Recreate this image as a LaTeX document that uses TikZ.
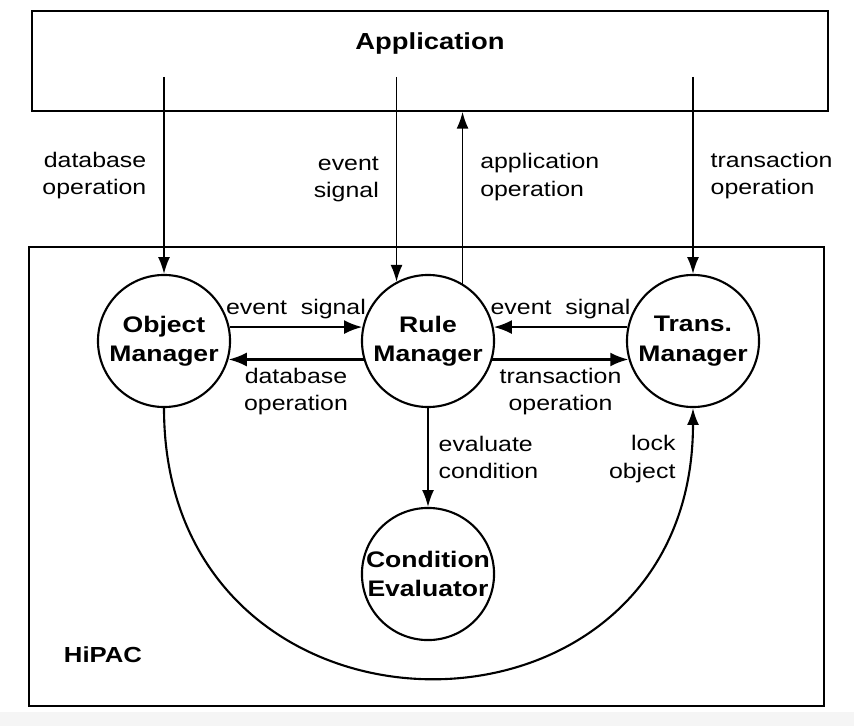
\documentclass[tikz,border=0pt]{standalone}
\usepackage{fontspec}
\setmainfont{Liberation Sans}[FakeStretch=1.18]
\usetikzlibrary{arrows.meta}

\begin{document}
\begin{tikzpicture}[x=0.025cm,y=0.025cm,
  >={Latex[length=12pt,width=8.5pt]},
  lbl/.style={font=\fontsize{15}{19.5}\selectfont,inner sep=0pt,align=center},
  bf/.style={font=\fontsize{15.5}{19.5}\selectfont\bfseries,inner sep=0pt},
  mgr/.style={circle,draw,line width=1.5pt,minimum size=3.3cm,inner sep=0pt,align=center,
    font=\fontsize{16}{21}\selectfont\bfseries},
  frame/.style={draw,line width=1.1pt,inner sep=0pt},
  flow/.style={->,line width=1.2pt},
  thick flow/.style={->,line width=1.9pt,>={Latex[length=13pt,width=10pt]}}]
  \useasboundingbox (0,0) rectangle (854,726);
  \fill[gray!8] (0,0) rectangle (854,14);

  % Application and HiPAC
  \node[frame,minimum width=19.9cm,minimum height=2.5cm] (App) at (430,665) {};
  \node[bf,font=\fontsize{16.5}{19.5}\selectfont\bfseries] (AppT) at (430,682) {Application};
  \node[frame,minimum width=19.875cm,minimum height=11.475cm] (Sys) at (426.5,249.5) {};
  \node[bf] (HiPAC) at (103,71) {HiPAC};

  % Managers
  \node[mgr] (OM) at (164,385) {Object\\Manager};
  \node[mgr] (RM) at (428,385) {Rule\\Manager};
  \node[mgr] (TM) at (693,385) {Trans.\\Manager};
  \node[mgr] (CE) at (428,152) {Condition\\Evaluator};

  \coordinate (dbS) at (164,649);
  \coordinate (trS) at (693,649);

  \draw [flow] (dbS) to node[lbl,left=12pt,align=right] {database\\operation} (OM);
  \draw [flow] (RM.118 |- dbS) to node[lbl,left=12pt,align=right] {event\\signal} (RM.118);
  \draw [flow] (RM.59) to node[lbl,right=12pt,pos=0.62,align=left] {application\\operation} (RM.59 |- App.south);
  \draw [flow] (trS) to node[lbl,right=12pt,align=left] {transaction\\operation} (TM);

  \draw [thick flow] (OM.12) to node[lbl,above=4.7pt] {event\ \ signal} (RM.168);
  \draw [thick flow] (RM.196) to node[lbl,below=5pt] {database\\operation} (OM.-16);
  \draw [thick flow] (TM.168) to node[lbl,above=4.7pt] {event\ \ signal} (RM.12);
  \draw [thick flow] (RM.-16) to node[lbl,below=5pt] {transaction\\operation} (TM.196);

  \draw [flow] (RM) to node[lbl,right=7pt,align=left] {evaluate\\condition} (CE);
  \draw [->,line width=1.5pt] (OM) to[out=-90,in=-90,looseness=1.74]
    node[lbl,pos=0.95,left=9pt,align=right] {lock\\object} (TM);
\end{tikzpicture}
\end{document}
